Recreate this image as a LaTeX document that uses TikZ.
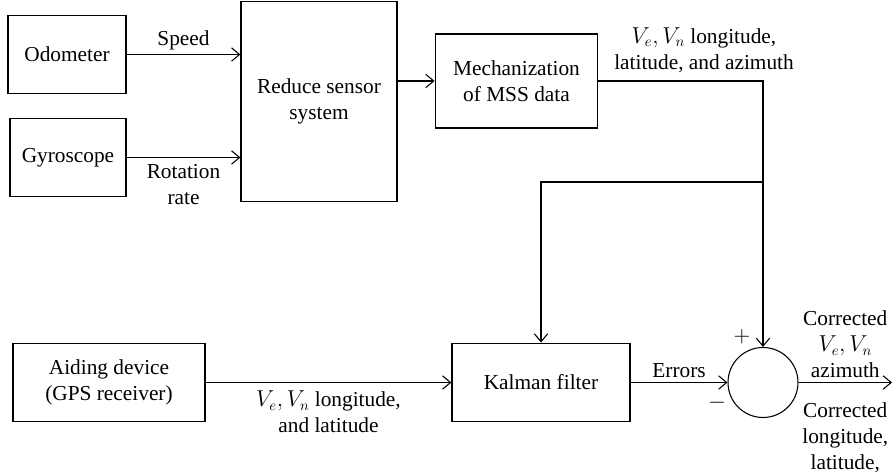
\documentclass[tikz,border=0pt]{standalone}
\usepackage{fontspec}
\setmainfont{Liberation Serif}
\usetikzlibrary{arrows.meta}

\tikzset{
  blk/.style={draw, line width=0.9pt, align=center, inner sep=2pt},
  lbl/.style={align=center, inner sep=3pt},
  sgn/.style={inner sep=0pt}
}

\begin{document}
\begin{tikzpicture}[x=0.75pt, y=-0.75pt, line width=0.8pt,
  >={Straight Barb[length=6pt,width=10pt]},
  font=\fontsize{16}{19.5}\selectfont]
\useasboundingbox (0,0) rectangle (892,473);

% sensor blocks
\node[blk, minimum width=88.5pt, minimum height=59pt] (odo) at (67,54.5) {Odometer};
\node[blk, minimum width=87pt, minimum height=59pt] (gyro) at (68,157.5) {Gyroscope};
\node[blk, minimum width=117pt, minimum height=150pt] (reduce) at (319,101.5) {Reduce sensor\\system};
\node[blk, minimum width=122pt, minimum height=70.5pt] (mech) at (516.5,81) {Mechanization\\of MSS data};

% aiding and filter
\node[blk, minimum width=144pt, minimum height=59pt] (aid) at (109,382.5) {Aiding device\\(GPS receiver)};
\node[blk, minimum width=133.5pt, minimum height=59pt] (kal) at (541,382.5) {Kalman filter};
\node[draw, circle, minimum size=52.5pt, inner sep=0pt] (sum) at (763,382.5) {};
\node[sgn] (plus) at (742,337) {$+$};
\node[sgn] (minus) at (717,403) {$-$};

\coordinate (corner) at (763,81);
\coordinate (tap) at (763,182);
\coordinate (out) at (892,382.5);

\node[lbl] (mechout) at (704,50) {$V_e, V_n$ longitude,\\latitude, and azimuth};

\draw[->] (odo) -- node[lbl, above] {Speed} (reduce.west|-odo);
\draw[->] (gyro) -- node[lbl, below=2pt] {Rotation\\rate} (reduce.west|-gyro);
\draw[->] (reduce.east|-mech) -- (mech);

\draw (mech.east) -- (corner) -- (tap);
\draw[->] (tap) -- (sum.north);
\draw[->] (tap) -- (kal.north|-tap) -- (kal.north);

\draw[->] (aid) -- node[lbl, below=3pt] {$V_e, V_n$ longitude,\\and latitude} (kal);
\draw[->] (kal) -- node[lbl, above] {Errors} (sum);
\draw[->] (sum) -- node[lbl, above] {Corrected\\$V_e, V_n$\\azimuth}
  node[lbl, below=12pt] {Corrected\\longitude,\\latitude,} (out);
\end{tikzpicture}
\end{document}
